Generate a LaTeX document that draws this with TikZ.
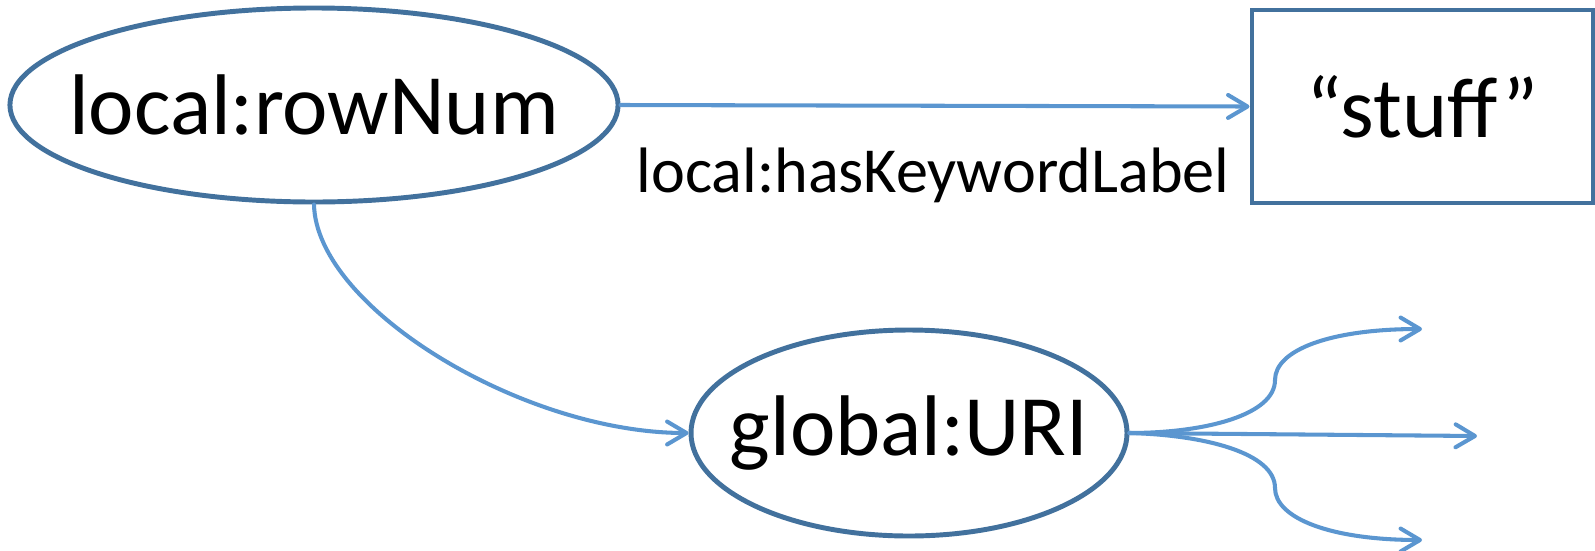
\documentclass[tikz,border=0pt]{standalone}
\usepackage{fontspec}
\setmainfont{Carlito}
\usetikzlibrary{shapes.geometric,arrows.meta}
\definecolor{outl}{RGB}{66,113,157}
\definecolor{arr}{RGB}{91,150,208}
\tikzset{
  bigtext/.style={font=\fontsize{24.4}{28}\selectfont, text=black, inner sep=0pt},
  ellnode/.style={bigtext, ellipse, draw=outl, line width=1.4pt},
  boxnode/.style={bigtext, rectangle, draw=outl, line width=1.4pt},
  conn/.style={draw=arr, line width=1.15pt, line cap=round,
    -{Straight Barb[length=5.5pt,width=6.5pt,round]}},
  lbl/.style={font=\fontsize{18.2}{21}\selectfont, text=black, inner sep=0pt}
}
\begin{document}
\begin{tikzpicture}[x=0.2835pt, y=-0.2835pt]
\useasboundingbox (0,0) rectangle (1595,550);
\node[ellnode, minimum width=172.4pt, minimum height=55pt] (e1) at (314,105) {\makebox[0pt]{local:rowNum}};
\node[boxnode, minimum width=96.7pt, minimum height=54.7pt] (box) at (1422.5,106.5) {\makebox[0pt]{“stuff”}};
\node[ellnode, minimum width=123.6pt, minimum height=58.4pt] (e2) at (909,433) {\makebox[0pt]{global:URI}};
\node[lbl, anchor=base] (lab) at (933,192) {local:hasKeywordLabel};
\coordinate (tu) at (1422,329);
\coordinate (tm) at (1477,436);
\coordinate (tl) at (1422,540);
\draw[conn] (e1.east) -- (box.west);
\draw[conn] (e1.south) .. controls (316,307) and (522,433) .. (e2.west);
\draw[conn] (e2.east) -- (tm);
\draw[conn] (e2.east) .. controls (1205,433) and (1275,415) .. (1275,380)
  .. controls (1275,350) and (1330,329) .. (tu);
\draw[conn] (e2.east) .. controls (1205,435) and (1275,453) .. (1275,488)
  .. controls (1275,518) and (1330,540) .. (tl);
\end{tikzpicture}
\end{document}
